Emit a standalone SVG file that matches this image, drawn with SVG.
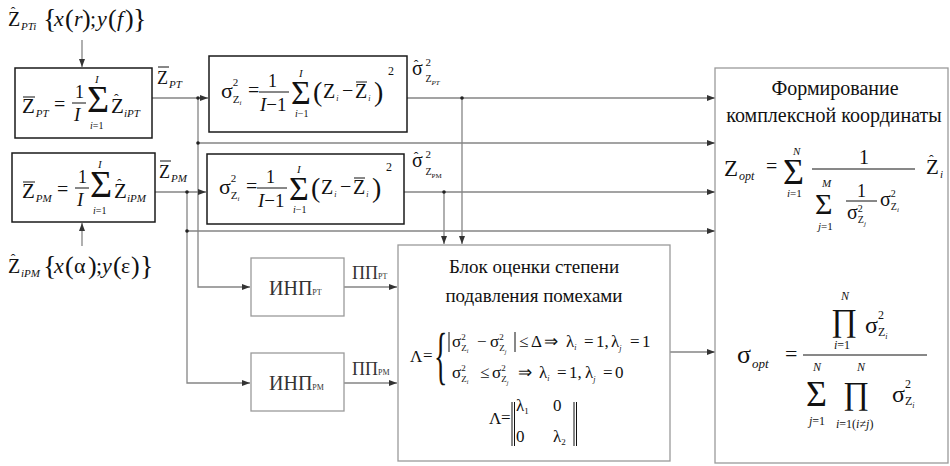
<svg xmlns="http://www.w3.org/2000/svg" width="950" height="466" viewBox="0 0 950 466">
<defs>
<marker id="ah" viewBox="0 0 8 6" refX="8" refY="3" markerWidth="8" markerHeight="6" orient="auto" markerUnits="userSpaceOnUse"><path d="M0,0 L8,3 L0,6 z" fill="#333"/></marker>
<style>
.i{font-style:italic}
.ar{stroke:#858585;stroke-width:1.3;fill:none;marker-end:url(#ah)}
.bx{fill:#fff;stroke:#1a1a1a;stroke-width:1.5}
.gb{fill:#fff;stroke:#9a9a9a;stroke-width:1.3}
.fr{stroke:#111;stroke-width:1}
.dot{fill:#222}
</style>
</defs>
<rect width="950" height="466" fill="#fff"/>

<g id="connectors">
<line class="ar" x1="82" y1="40" x2="82" y2="67"/>
<line class="ar" x1="82" y1="246" x2="82" y2="223"/>
<line class="ar" x1="152" y1="98" x2="208" y2="98"/>
<polyline class="ar" points="198,98 198,287 250,287"/>
<line class="ar" x1="198" y1="143" x2="715" y2="143"/>
<line class="ar" x1="407" y1="98" x2="715" y2="98"/>
<line class="ar" x1="462" y1="98" x2="462" y2="244"/>
<line class="ar" x1="155" y1="192" x2="206" y2="192"/>
<polyline class="ar" points="187,192 187,383 250,383"/>
<line class="ar" x1="187" y1="231" x2="715" y2="231"/>
<line class="ar" x1="404" y1="192" x2="715" y2="192"/>
<line class="ar" x1="444" y1="192" x2="444" y2="244"/>
<line class="ar" x1="344" y1="287" x2="397" y2="287"/>
<line class="ar" x1="344" y1="383" x2="397" y2="383"/>
<line class="ar" x1="670" y1="352" x2="715" y2="352"/>
<circle class="dot" cx="198" cy="98" r="1.8"/>
<circle class="dot" cx="198" cy="143" r="1.8"/>
<circle class="dot" cx="462" cy="98" r="1.8"/>
<circle class="dot" cx="187" cy="192" r="1.8"/>
<circle class="dot" cx="187" cy="231" r="1.8"/>
<circle class="dot" cx="444" cy="192" r="1.8"/>
</g>

<g font-family="'Liberation Serif', serif" fill="#111">

<g id="label-input-pt">
<text x="8" y="26" font-size="20">Z<tspan font-size="14" dx="-9.5" dy="-9">ˆ</tspan><tspan font-size="11" class="i" dx="5.6" dy="13">PTi</tspan></text>
<text x="43" y="28" font-size="28">{</text>
<text y="26" font-size="22"><tspan x="54" class="i">x</tspan><tspan x="65" font-size="26" dy="1">(</tspan><tspan x="74" class="i" dy="-1">r</tspan><tspan x="82" font-size="26" dy="1">)</tspan><tspan x="90" dy="-1">;</tspan><tspan x="97" class="i">y</tspan><tspan x="108" font-size="26" dy="1">(</tspan><tspan x="117" class="i" dy="-1">f</tspan><tspan x="125" font-size="26" dy="1">)</tspan></text>
<text x="133" y="28" font-size="28">}</text>
</g>

<g id="label-input-pm">
<text x="8" y="273" font-size="20">Z<tspan font-size="14" dx="-9.5" dy="-9">ˆ</tspan><tspan font-size="11" class="i" dx="5.6" dy="13">iPM</tspan></text>
<text x="43" y="275" font-size="28">{</text>
<text y="273" font-size="22"><tspan x="54" class="i">x</tspan><tspan x="65" font-size="26" dy="1">(</tspan><tspan x="74" dy="-1">α</tspan><tspan x="88" font-size="26" dy="1">)</tspan><tspan x="96" dy="-1">;</tspan><tspan x="102" class="i">y</tspan><tspan x="113" font-size="26" dy="1">(</tspan><tspan x="121" dy="-1">ε</tspan><tspan x="131" font-size="26" dy="1">)</tspan></text>
<text x="140" y="275" font-size="28">}</text>
</g>

<g id="box-zpt">
<rect class="bx" x="15" y="68" width="137" height="70"/>
<text x="22" y="113" font-size="21">Z<tspan font-size="11" class="i" dx="1" dy="4">PT</tspan></text>
<line class="fr" x1="23" y1="97" x2="35" y2="97"/>
<text x="54" y="111" font-size="20">=</text>
<text x="75" y="98" font-size="18">1</text>
<line class="fr" x1="72" y1="103" x2="86" y2="103"/>
<text x="74" y="121" font-size="19" class="i">I</text>
<text x="87" y="112" font-size="38">Σ</text>
<text x="95" y="83" font-size="11" class="i">I</text>
<text x="90" y="129" font-size="10"><tspan class="i">i</tspan>=1</text>
<text x="111" y="113" font-size="21">Z<tspan font-size="14" dx="-9.9" dy="-9">ˆ</tspan><tspan font-size="11" class="i" dx="5.4" dy="13">iPT</tspan></text>
</g>

<g id="box-zpm">
<rect class="bx" x="12" y="153" width="143" height="69"/>
<text x="22" y="198" font-size="21">Z<tspan font-size="11" class="i" dx="1" dy="4">PM</tspan></text>
<line class="fr" x1="23" y1="182" x2="35" y2="182"/>
<text x="57" y="196" font-size="20">=</text>
<text x="78" y="183" font-size="18">1</text>
<line class="fr" x1="75" y1="188" x2="89" y2="188"/>
<text x="77" y="206" font-size="19" class="i">I</text>
<text x="90" y="197" font-size="38">Σ</text>
<text x="98" y="168" font-size="11" class="i">I</text>
<text x="93" y="214" font-size="10"><tspan class="i">i</tspan>=1</text>
<text x="114" y="198" font-size="21">Z<tspan font-size="14" dx="-9.9" dy="-9">ˆ</tspan><tspan font-size="11" class="i" dx="5.4" dy="13">iPM</tspan></text>
</g>

<g id="lbl-zpt">
<text x="157" y="84" font-size="18">Z<tspan font-size="11" class="i" dx="1" dy="4">PT</tspan></text>
<line class="fr" x1="158" y1="67" x2="169" y2="67"/>
</g>
<g id="lbl-zpm">
<text x="159" y="178" font-size="18">Z<tspan font-size="11" class="i" dx="1" dy="4">PM</tspan></text>
<line class="fr" x1="160" y1="161" x2="171" y2="161"/>
</g>

<g id="box-sigma-pt">
<rect class="bx" x="209" y="56" width="198" height="76"/>
<text x="221" y="98" font-size="22">σ<tspan font-size="11" dy="-12">2</tspan><tspan font-size="11" dx="-5.5" dy="17">Z</tspan><tspan font-size="7" class="i" dy="2">i</tspan></text>
<text x="248" y="97" font-size="20">=</text>
<text x="268" y="87" font-size="18">1</text>
<line class="fr" x1="259" y1="92" x2="289" y2="92"/>
<text x="260" y="111" font-size="19"><tspan class="i">I</tspan>−1</text>
<text x="291" y="104" font-size="34">Σ</text>
<text x="299" y="77" font-size="11" class="i">I</text>
<text x="295" y="117" font-size="10"><tspan class="i">i</tspan>−1</text>
<text x="313" y="101" font-size="28">(</text>
<text x="323" y="98" font-size="20">Z<tspan font-size="8" class="i" dx="1" dy="3">i</tspan></text>
<text x="342" y="97" font-size="20">−</text>
<text x="355" y="98" font-size="20">Z<tspan font-size="8" class="i" dx="1" dy="3">i</tspan></text>
<line class="fr" x1="356" y1="82" x2="367" y2="82"/>
<text x="374" y="101" font-size="28">)</text>
<text x="388" y="75" font-size="12">2</text>
</g>

<g id="box-sigma-pm">
<rect class="bx" x="207" y="154" width="197" height="70"/>
<g transform="translate(-2,96)">
<text x="221" y="98" font-size="22">σ<tspan font-size="11" dy="-12">2</tspan><tspan font-size="11" dx="-5.5" dy="17">Z</tspan><tspan font-size="7" class="i" dy="2">i</tspan></text>
<text x="248" y="97" font-size="20">=</text>
<text x="268" y="87" font-size="18">1</text>
<line class="fr" x1="259" y1="92" x2="289" y2="92"/>
<text x="260" y="111" font-size="19"><tspan class="i">I</tspan>−1</text>
<text x="291" y="104" font-size="34">Σ</text>
<text x="299" y="77" font-size="11" class="i">I</text>
<text x="295" y="117" font-size="10"><tspan class="i">i</tspan>−1</text>
<text x="313" y="101" font-size="28">(</text>
<text x="323" y="98" font-size="20">Z<tspan font-size="8" class="i" dx="1" dy="3">i</tspan></text>
<text x="342" y="97" font-size="20">−</text>
<text x="355" y="98" font-size="20">Z<tspan font-size="8" class="i" dx="1" dy="3">i</tspan></text>
<line class="fr" x1="356" y1="82" x2="367" y2="82"/>
<text x="374" y="101" font-size="28">)</text>
<text x="388" y="75" font-size="12">2</text>
</g>
</g>

<g id="lbl-sig-pt">
<text x="412" y="75" font-size="20">σ<tspan font-size="14" dx="-9" dy="-5">ˆ</tspan><tspan font-size="11" dx="7" dy="-4">2</tspan><tspan font-size="10" dx="-5.5" dy="16">Z</tspan><tspan font-size="7" class="i" dy="3">PT</tspan></text>
</g>
<g id="lbl-sig-pm">
<text x="412" y="167" font-size="20">σ<tspan font-size="14" dx="-9" dy="-5">ˆ</tspan><tspan font-size="11" dx="7" dy="-4">2</tspan><tspan font-size="10" dx="-5.5" dy="17">Z</tspan><tspan font-size="7" dy="3">PM</tspan></text>
</g>

<g id="box-inp-pt">
<rect class="gb" x="251" y="258" width="93" height="58"/>
<text x="269" y="295" font-size="20" fill="#333">ИНП<tspan font-size="8">PT</tspan></text>
</g>
<g id="lbl-pp-pt">
<text x="352" y="279" font-size="18" fill="#333">ПП<tspan font-size="8">PT</tspan></text>
</g>
<g id="box-inp-pm">
<rect class="gb" x="251" y="353" width="93" height="58"/>
<text x="269" y="390" font-size="20" fill="#333">ИНП<tspan font-size="8">PM</tspan></text>
</g>
<g id="lbl-pp-pm">
<text x="352" y="375" font-size="18" fill="#333">ПП<tspan font-size="8">PM</tspan></text>
</g>

<g id="box-block">
<rect class="gb" x="398" y="245" width="272" height="216"/>
<text x="534" y="273" font-size="19" text-anchor="middle">Блок оценки степени</text>
<text x="534" y="302" font-size="19" text-anchor="middle">подавления помехами</text>
<text x="410" y="362" font-size="17">Λ</text>
<text x="423" y="361" font-size="17">=</text>
<text transform="translate(434,377) scale(1,2.3)" font-size="28">{</text>
<line class="fr" x1="449" y1="332" x2="449" y2="352"/>
<text x="452" y="347" font-size="17">σ<tspan font-size="9" dy="-7">2</tspan><tspan font-size="9" dx="-4.5" dy="11">Z</tspan><tspan font-size="6" class="i" dy="2">i</tspan></text>
<text x="477" y="347" font-size="17">−</text>
<text x="490" y="347" font-size="17">σ<tspan font-size="9" dy="-7">2</tspan><tspan font-size="9" dx="-4.5" dy="11">Z</tspan><tspan font-size="6" class="i" dy="3">j</tspan></text>
<line class="fr" x1="515" y1="332" x2="515" y2="352"/>
<text y="347" font-size="17"><tspan x="519">≤</tspan><tspan x="531">Δ</tspan><tspan x="544">⇒</tspan></text>
<text x="566" y="347" font-size="17">λ<tspan font-size="8" class="i" dy="3">i</tspan></text>
<text y="347" font-size="17"><tspan x="584">=</tspan><tspan x="596">1,</tspan></text>
<text x="611" y="347" font-size="17">λ<tspan font-size="8" class="i" dy="4">j</tspan></text>
<text y="347" font-size="17"><tspan x="630">=</tspan><tspan x="642">1</tspan></text>

<text x="452" y="378" font-size="17">σ<tspan font-size="9" dy="-7">2</tspan><tspan font-size="9" dx="-4.5" dy="11">Z</tspan><tspan font-size="6" class="i" dy="2">i</tspan></text>
<text x="480" y="378" font-size="17">≤</text>
<text x="492" y="378" font-size="17">σ<tspan font-size="9" dy="-7">2</tspan><tspan font-size="9" dx="-4.5" dy="11">Z</tspan><tspan font-size="6" class="i" dy="3">j</tspan></text>
<text x="518" y="378" font-size="17">⇒</text>
<text x="539" y="378" font-size="17">λ<tspan font-size="8" class="i" dy="3">i</tspan></text>
<text y="378" font-size="17"><tspan x="557">=</tspan><tspan x="569">1,</tspan></text>
<text x="585" y="378" font-size="17">λ<tspan font-size="8" class="i" dy="4">j</tspan></text>
<text y="378" font-size="17"><tspan x="603">=</tspan><tspan x="615">0</tspan></text>

<text x="489" y="424" font-size="17">Λ</text>
<text x="501" y="423" font-size="17">=</text>
<line class="fr" x1="512" y1="402" x2="512" y2="446"/>
<line class="fr" x1="514.5" y1="402" x2="514.5" y2="446"/>
<text x="516" y="411" font-size="17">λ<tspan font-size="9" dy="3">1</tspan></text>
<text x="553" y="411" font-size="17">0</text>
<text x="516" y="442" font-size="17">0</text>
<text x="553" y="442" font-size="17">λ<tspan font-size="9" dy="3">2</tspan></text>
<line class="fr" x1="574" y1="402" x2="574" y2="446"/>
<line class="fr" x1="576.5" y1="402" x2="576.5" y2="446"/>
</g>

<g id="box-form">
<rect class="gb" x="715" y="68" width="233" height="395"/>
<text x="835" y="95" font-size="20" text-anchor="middle">Формирование</text>
<text x="834" y="122" font-size="20" text-anchor="middle">комплексной координаты</text>
<text x="724" y="176" font-size="23">Z<tspan font-size="12" class="i" dx="1" dy="4">opt</tspan></text>
<text x="766" y="173" font-size="20">=</text>
<text x="783" y="184" font-size="36">Σ</text>
<text x="793" y="155" font-size="11" class="i">N</text>
<text x="787" y="197" font-size="11"><tspan class="i">i</tspan>=1</text>
<line class="fr" x1="812" y1="169" x2="915" y2="169"/>
<text x="859" y="164" font-size="20">1</text>
<text x="815" y="214" font-size="30">Σ</text>
<text x="822" y="187" font-size="11" class="i">M</text>
<text x="818" y="230" font-size="11"><tspan class="i">j</tspan>=1</text>
<text x="857" y="197" font-size="18">1</text>
<line class="fr" x1="846" y1="201" x2="877" y2="201"/>
<text x="847" y="219" font-size="20">σ<tspan font-size="10" dy="-7">2</tspan><tspan font-size="10" dx="-5" dy="11">Z</tspan><tspan font-size="7" class="i" dy="3">j</tspan></text>
<text x="880" y="206" font-size="20">σ<tspan font-size="10" dy="-9">2</tspan><tspan font-size="10" dx="-5" dy="13">Z</tspan><tspan font-size="7" class="i" dy="2">i</tspan></text>
<text x="926" y="174" font-size="21">Z<tspan font-size="14" dx="-9.9" dy="-9">ˆ</tspan><tspan font-size="11" class="i" dx="6.4" dy="13">i</tspan></text>

<text x="737" y="363" font-size="26">σ<tspan font-size="13" class="i" dx="1" dy="5">opt</tspan></text>
<text x="785" y="361" font-size="22">=</text>
<line class="fr" x1="803" y1="355" x2="927" y2="355"/>
<text x="831" y="331" font-size="32">∏</text>
<text x="841" y="300" font-size="12" class="i">N</text>
<text x="834" y="349" font-size="12"><tspan class="i">i</tspan>=1</text>
<text x="865" y="333" font-size="24">σ<tspan font-size="12" dy="-14">2</tspan><tspan font-size="12" dx="-6" dy="17">Z</tspan><tspan font-size="8" class="i" dy="3">i</tspan></text>
<text x="806" y="406" font-size="36">Σ</text>
<text x="813" y="371" font-size="12" class="i">N</text>
<text x="809" y="425" font-size="12"><tspan class="i">j</tspan>=1</text>
<text x="843" y="404" font-size="32">∏</text>
<text x="857" y="371" font-size="12" class="i">N</text>
<text x="836" y="428" font-size="12"><tspan class="i">i</tspan>=1(<tspan class="i">i</tspan>≠<tspan class="i">j</tspan>)</text>
<text x="892" y="402" font-size="24">σ<tspan font-size="12" dy="-14">2</tspan><tspan font-size="12" dx="-6" dy="17">Z</tspan><tspan font-size="8" class="i" dy="3">i</tspan></text>
</g>
</g>
</svg>
